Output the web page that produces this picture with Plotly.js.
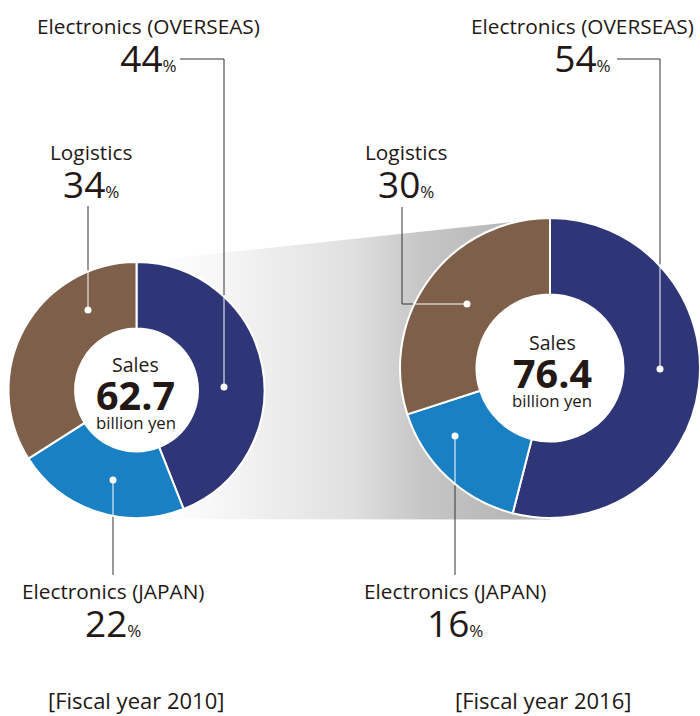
<!DOCTYPE html>
<html>
<head>
<meta charset="utf-8">
<script src="https://cdn.plot.ly/plotly-3.0.1.min.js"></script>
<style>html,body{margin:0;padding:0;background:#fff;}#chart{width:700px;height:716px;}</style>
</head>
<body>
<div id="chart"></div>
<script>
// ---- data ----
const categories = ['Electronics (OVERSEAS)', 'Electronics (JAPAN)', 'Logistics'];
const share2010 = [44, 22, 34];
const share2016 = [54, 16, 30];
const salesTotals = [62.7, 76.4];
const yearLabels = ['[Fiscal year 2010]', '[Fiscal year 2016]'];
const sliceColors = ['#2f3677', '#1a80c4', '#7e5f49'];

// ---- layout geometry (pixels) ----
const W = 700, H = 716;
const TXT = '#231815';
const FONT = '"Open Sans", "Noto Sans", sans-serif';
const donuts = [
  { cx: 136.5, cy: 390, r: 128, hole: 0.48, values: share2010, sales: salesTotals[0], year: yearLabels[0],
    salesY: 364.5, valueY: 395, unitY: 422.5, textX: 135.5, yearX: 136, yearY: 700,
    labels: [
      { x: 148.5, titleY: 27, numY: 60, path: [[180, 59], [224, 59], [224, 387]] },
      { x: 112.5, titleY: 592, numY: 625, path: [[113, 575], [113, 480]] },
      { x: 91, titleY: 153.5, numY: 184.5, path: [[88, 206], [88, 310]] }
    ] },
  { cx: 550, cy: 368, r: 150, hole: 0.49, values: share2016, sales: salesTotals[1], year: yearLabels[1],
    salesY: 342.5, valueY: 372.5, unitY: 400.5, textX: 552, yearX: 543, yearY: 700,
    labels: [
      { x: 582.5, titleY: 27, numY: 60, path: [[617, 59], [660, 59], [660, 369]] },
      { x: 455, titleY: 592, numY: 625, path: [[455, 575], [455, 436]] },
      { x: 406, titleY: 153.5, numY: 184.5, path: [[402, 207], [402, 304], [467, 304]] }
    ] }
];

const traces = [];
// gradient band connecting the two donuts
traces.push({
  type: 'scatter', mode: 'lines',
  x: [donuts[0].cx, donuts[1].cx - 10, donuts[1].cx, donuts[1].cx, donuts[0].cx],
  y: [donuts[0].cy - donuts[0].r, donuts[1].cy - donuts[1].r + 0.5, donuts[1].cy - donuts[1].r, donuts[1].cy + donuts[1].r + 1.5, donuts[0].cy + donuts[0].r + 1],
  fill: 'toself', line: { width: 0, color: 'rgba(0,0,0,0)' },
  fillgradient: { type: 'horizontal', colorscale: [[0, '#ffffff'], [0.13, '#fbfbfb'], [0.52, '#e0e0e0'], [0.69, '#c6c6c6'], [1, '#b0b0b0']] },
  hoverinfo: 'skip', showlegend: false
});

const shapes = [];
const annotations = [];

function splitPath(path, cx, cy, R) {
  for (let i = 0; i < path.length - 1; i++) {
    const [x1, y1] = path[i], [x2, y2] = path[i + 1];
    const dx = x2 - x1, dy = y2 - y1;
    const fx = x1 - cx, fy = y1 - cy;
    const a = dx * dx + dy * dy, b = 2 * (fx * dx + fy * dy), c = fx * fx + fy * fy - R * R;
    const disc = b * b - 4 * a * c;
    if (c > 0 && disc >= 0) {
      const t = (-b - Math.sqrt(disc)) / (2 * a);
      if (t >= 0 && t <= 1) {
        const p = [x1 + t * dx, y1 + t * dy];
        return [path.slice(0, i + 1).concat([p]), [p].concat(path.slice(i + 1))];
      }
    }
  }
  return [path, []];
}
function toSvg(pts) { return pts.map((p, i) => (i ? 'L' : 'M') + p[0].toFixed(2) + ',' + p[1].toFixed(2)).join(' '); }

donuts.forEach((d) => {
  traces.push({
    type: 'pie', values: d.values, labels: categories, sort: false, direction: 'clockwise', rotation: 0,
    hole: d.hole, textinfo: 'none', hoverinfo: 'skip', showlegend: false,
    marker: { colors: sliceColors, line: { color: '#ffffff', width: 2 } },
    domain: { x: [(d.cx - d.r) / W, (d.cx + d.r) / W], y: [(H - d.cy - d.r) / H, (H - d.cy + d.r) / H] }
  });
  const hr = d.r * d.hole;
  shapes.push({ type: 'circle', layer: 'above', xref: 'x', yref: 'y', x0: d.cx - hr, x1: d.cx + hr, y0: d.cy - hr, y1: d.cy + hr,
    fillcolor: '#ffffff', line: { width: 0 } });

  d.labels.forEach((lab, i) => {
    const [outer, inner] = splitPath(lab.path, d.cx, d.cy, d.r + 1);
    shapes.push({ type: 'path', layer: 'above', xref: 'x', yref: 'y', path: toSvg(outer), line: { color: '#3b3331', width: 1 } });
    if (inner.length > 1) shapes.push({ type: 'path', layer: 'above', xref: 'x', yref: 'y', path: toSvg(inner), line: { color: '#ffffff', width: 1 } });
    const end = lab.path[lab.path.length - 1];
    shapes.push({ type: 'circle', layer: 'above', xref: 'x', yref: 'y', x0: end[0] - 3.5, x1: end[0] + 3.5, y0: end[1] - 3.5, y1: end[1] + 3.5,
      fillcolor: '#ffffff', line: { width: 0 } });
    // title + percentage as one two-line text
    annotations.push({ xref: 'x', yref: 'y', x: lab.x, y: (lab.titleY + lab.numY) / 2 + 4,
      text: '<span style="font-size:20.8px">' + categories[i] + '</span><br>' +
            '<span style="font-size:37px">' + d.values[i] + '</span><span style="font-size:17px">%</span>',
      showarrow: false, align: 'center', xanchor: 'center', yanchor: 'middle', font: { family: FONT, size: 29.2, color: TXT } });
  });

  annotations.push({ xref: 'x', yref: 'y', x: d.textX, y: d.salesY, text: 'Sales', showarrow: false, xanchor: 'center', yanchor: 'middle',
    font: { family: FONT, size: 19.5, color: TXT } });
  annotations.push({ xref: 'x', yref: 'y', x: d.textX, y: d.valueY, text: '<b>' + d.sales.toFixed(1) + '</b>', showarrow: false, xanchor: 'center', yanchor: 'middle',
    font: { family: FONT, size: 39.5, color: TXT } });
  annotations.push({ xref: 'x', yref: 'y', x: d.textX, y: d.unitY, text: 'billion yen', showarrow: false, xanchor: 'center', yanchor: 'middle',
    font: { family: FONT, size: 16.8, color: TXT } });
  annotations.push({ xref: 'x', yref: 'y', x: d.yearX, y: d.yearY, text: d.year, showarrow: false, xanchor: 'center', yanchor: 'middle',
    font: { family: FONT, size: 22, color: TXT } });
});

const layout = {
  width: W, height: H, margin: { l: 0, r: 0, t: 0, b: 0, pad: 0 },
  paper_bgcolor: '#ffffff', plot_bgcolor: '#ffffff', showlegend: false,
  xaxis: { range: [0, W], visible: false, fixedrange: true, domain: [0, 1] },
  yaxis: { range: [H, 0], visible: false, fixedrange: true, domain: [0, 1] },
  shapes: shapes, annotations: annotations
};
Plotly.newPlot('chart', traces, layout, { staticPlot: true, displayModeBar: false });
</script>
</body>
</html>
